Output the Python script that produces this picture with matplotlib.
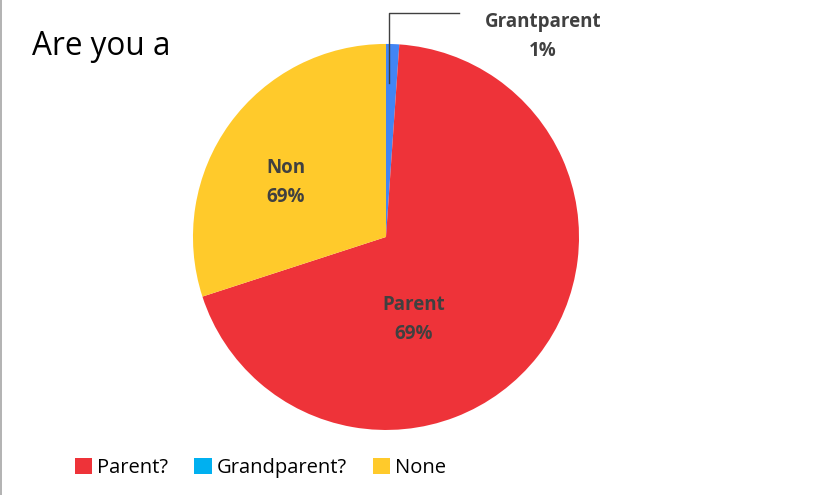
import matplotlib
matplotlib.use("Agg")
from matplotlib import pyplot as plt
from matplotlib.patches import Patch
from matplotlib.lines import Line2D

# data, in drawing order (clockwise from 12 o'clock)
slice_names = ["Grandparent?", "Parent?", "None"]
slice_values = [1.1, 68.9, 30.0]
slice_colors = ["#4285F4", "#EE3339", "#FFCA2B"]
slice_labels = ["Grantparent\n1%", "Parent\n69%", "Non\n69%"]

legend_names = ["Parent?", "Grandparent?", "None"]
legend_colors = ["#EE3339", "#00B0F0", "#FFCA2B"]

plt.rcParams['font.family'] = ['Open Sans', 'DejaVu Sans']

fig = plt.figure(figsize=(8.17, 4.95), dpi=100)
fig.patch.set_facecolor("white")

ax = fig.add_axes([0.2362, 0.1313, 0.4725, 0.78])
ax.pie(slice_values, colors=slice_colors, startangle=90, counterclock=False,
       radius=1.0, wedgeprops=dict(linewidth=0))
ax.set_xlim(-1, 1)
ax.set_ylim(-1, 1)
ax.set_aspect('equal')
ax.axis('off')

lbl_style = dict(ha='center', va='center', fontsize=13.5, fontweight='bold',
                 color='#404040', linespacing=1.6)
ax.text(0.145, -0.43, slice_labels[1], **lbl_style)
ax.text(-0.518, 0.28, slice_labels[2], **lbl_style)
ax.text(0.813, 1.04, slice_labels[0], clip_on=False, **lbl_style)
ax.add_line(Line2D([0.378, 0.016, 0.016], [1.16, 1.16, 0.80],
                   color='#404040', linewidth=1.0, clip_on=False))

fig.text(0.039, 0.907, "Are you a", fontsize=22.7, color='black',
         ha='left', va='center')

handles = [Patch(facecolor=c, edgecolor='none') for c in legend_colors]
fig.legend(handles, legend_names, loc='center left',
           bbox_to_anchor=(0.092, 0.055), ncol=3, frameon=False,
           fontsize=14.5, handlelength=0.85, handleheight=0.85,
           handletextpad=0.25, columnspacing=1.3, borderpad=0,
           borderaxespad=0)

# thin frame edge on the left
fig.add_artist(Line2D([0.001, 0.001], [0, 1], color='#A6A6A6',
                      linewidth=1.2, transform=fig.transFigure))

fig.savefig("out.png", dpi=100, facecolor="white")
